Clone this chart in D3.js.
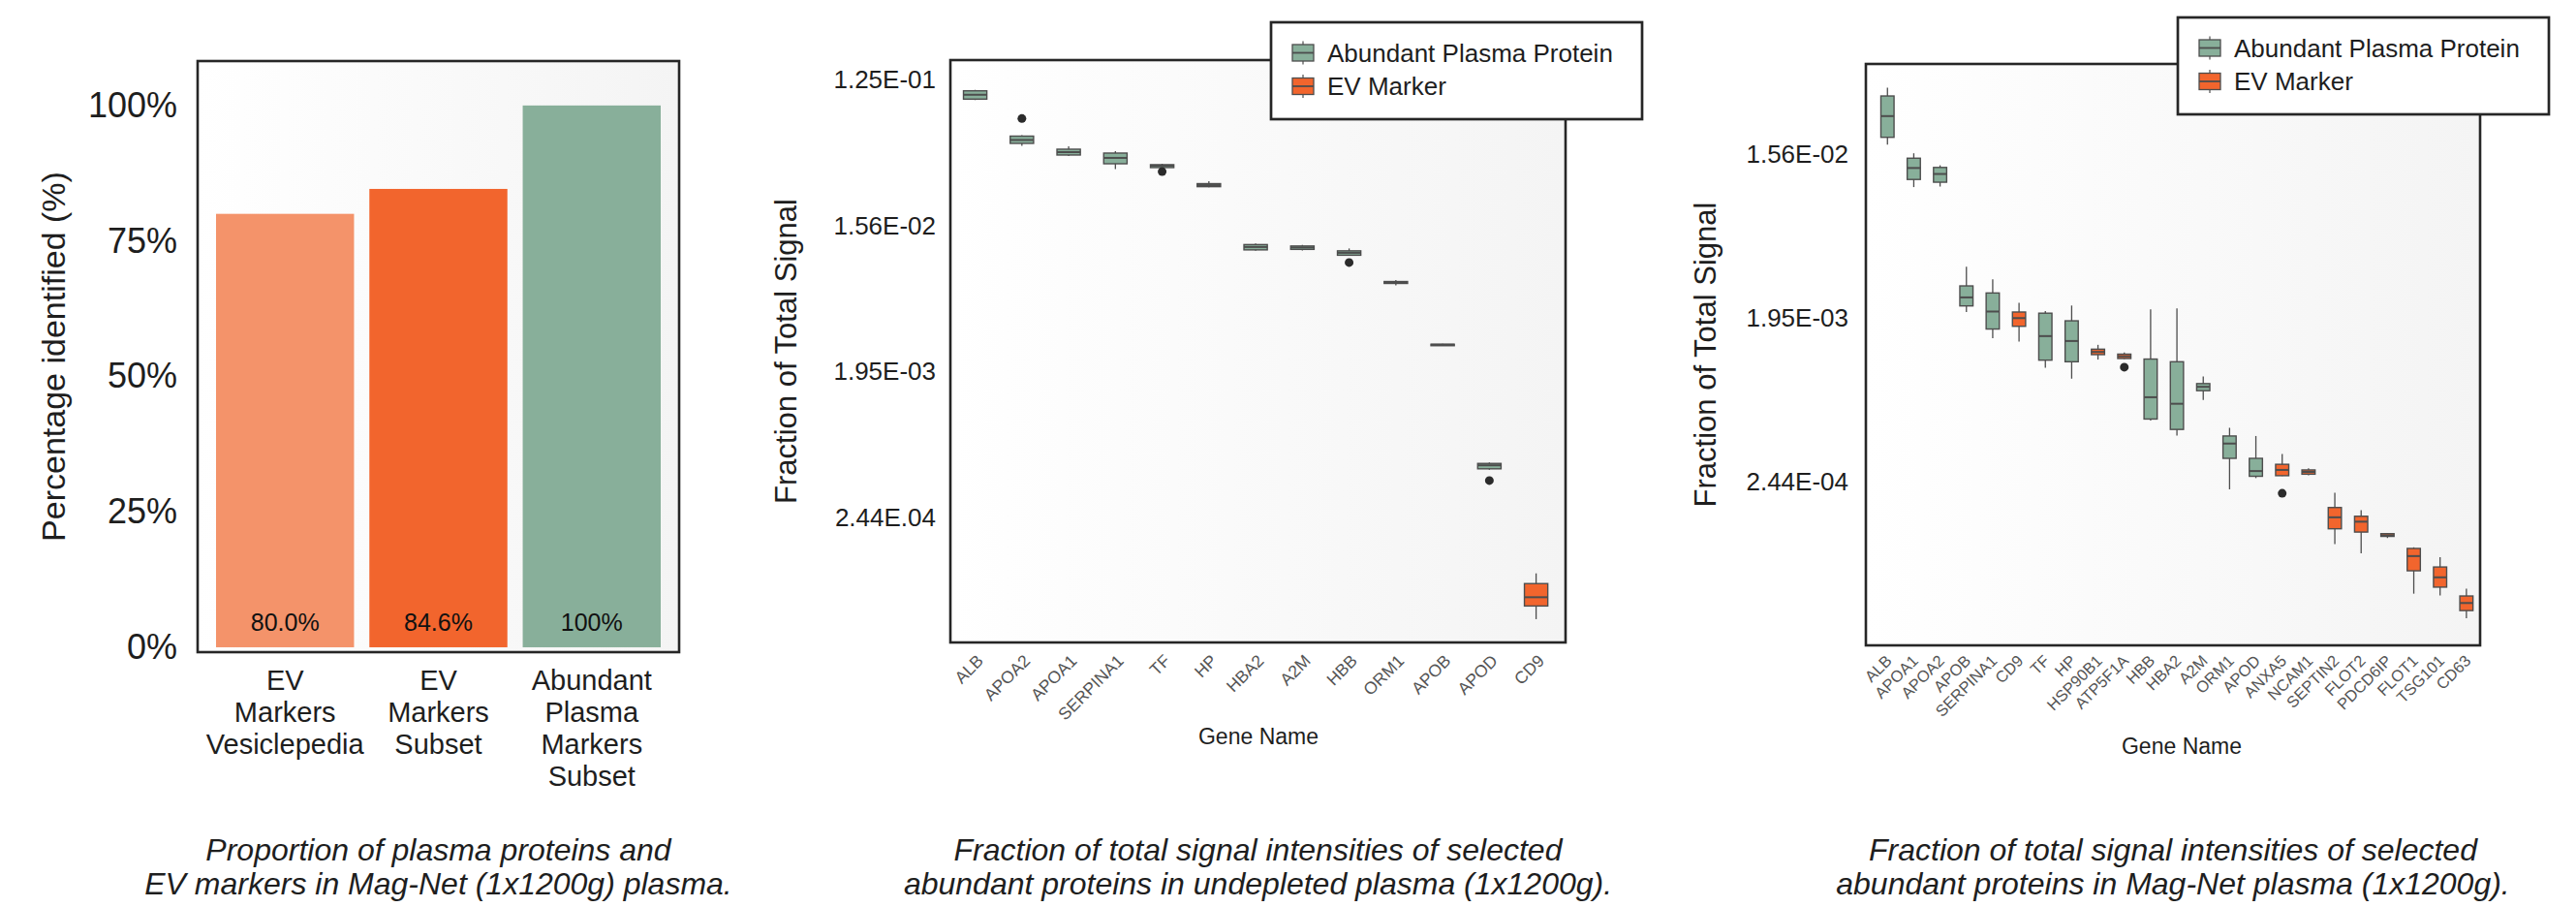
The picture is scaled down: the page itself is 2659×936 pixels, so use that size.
<!DOCTYPE html>
<html>
<head>
<meta charset="utf-8">
<script src="https://cdn.jsdelivr.net/npm/d3@7"></script>
<style>
  html, body { margin: 0; padding: 0; background: #fff; }
  svg { display: block; font-family: "Liberation Sans", Arial, Helvetica, sans-serif; }
</style>
</head>
<body>
<svg id="chart" width="2659" height="936"></svg>
<script>
// ---- data ----
const barCategories = [
  ['EV', 'Markers', 'Vesiclepedia'],
  ['EV', 'Markers', 'Subset'],
  ['Abundant', 'Plasma', 'Markers', 'Subset'],
];
const barValues = [0.800, 0.846, 1.0];
const barLabels = ['80.0%', '84.6%', '100%'];
const barTicks = [0, 0.25, 0.5, 0.75, 1];
const barTickLabels = ['0%', '25%', '50%', '75%', '100%'];

const legendNames = ['Abundant Plasma Protein', 'EV Marker'];

// undepleted plasma: [whisker low, q1, median, q3, whisker high]
const undepletedGenes = ['ALB', 'APOA2', 'APOA1', 'SERPINA1', 'TF', 'HP', 'HBA2', 'A2M', 'HBB', 'ORM1', 'APOB', 'APOD', 'CD9'];
const undepletedGroups = [0, 0, 0, 0, 0, 0, 0, 0, 0, 0, 0, 0, 1];
const undepletedStats = [
  [0.0934, 0.0947, 0.1008, 0.1066, 0.1081],
  [0.0487, 0.0504, 0.0529, 0.0559, 0.0567],
  [0.0421, 0.0427, 0.0445, 0.0464, 0.0484],
  [0.0349, 0.0377, 0.0410, 0.0439, 0.0451],
  [0.0354, 0.0357, 0.0367, 0.0372, 0.0377],
  [0.0270, 0.0272, 0.0278, 0.0284, 0.0294],
  [0.01090, 0.01105, 0.01152, 0.01192, 0.01209],
  [0.01097, 0.01113, 0.01144, 0.01168, 0.01184],
  [0.01017, 0.01024, 0.01060, 0.01090, 0.01128],
  [0.00666, 0.00685, 0.00694, 0.00704, 0.00719],
  [0.00282, 0.00284, 0.00286, 0.00288, 0.00290],
  [0.000482, 0.000488, 0.000513, 0.000527, 0.000534],
  [0.0000573, 0.0000691, 0.0000783, 0.0000951, 0.000110],
];
const undepletedOutliers = [[], [0.0718], [], [], [0.0337], [], [], [], [0.00923], [], [], [0.000413], []];
const undepletedTicks = [0.125, 0.015625, 0.001953125, 0.000244140625];
const undepletedTickLabels = ['1.25E-01', '1.56E-02', '1.95E-03', '2.44E.04'];

// Mag-Net plasma
const magnetGenes = ['ALB', 'APOA1', 'APOA2', 'APOB', 'SERPINA1', 'CD9', 'TF', 'HP', 'HSP90B1', 'ATP5F1A', 'HBB', 'HBA2',
  'A2M', 'ORM1', 'APOD', 'ANXA5', 'NCAM1', 'SEPTIN2', 'FLOT2', 'PDCD6IP', 'FLOT1', 'TSG101', 'CD63'];
const magnetGroups = [0, 0, 0, 0, 0, 1, 0, 0, 1, 1, 0, 0, 0, 0, 0, 1, 1, 1, 1, 1, 1, 1, 1];
const magnetStats = [
  [0.0177, 0.0194, 0.0254, 0.0328, 0.0364],
  [0.01031, 0.01136, 0.01314, 0.01488, 0.01584],
  [0.01038, 0.01097, 0.01218, 0.01323, 0.01360],
  [0.00211, 0.00228, 0.00254, 0.00294, 0.00375],
  [0.001511, 0.001700, 0.002123, 0.002687, 0.003194],
  [0.001450, 0.001760, 0.001953, 0.00211, 0.002372],
  [0.001039, 0.001145, 0.001554, 0.002079, 0.002137],
  [0.000905, 0.001122, 0.001460, 0.001887, 0.002291],
  [0.001153, 0.001228, 0.001271, 0.001316, 0.001391],
  [0.001161, 0.001169, 0.001202, 0.001236, 0.001262],
  [0.000531, 0.000542, 0.000715, 0.001161, 0.002182],
  [0.000440, 0.000475, 0.000658, 0.001122, 0.002212],
  [0.000691, 0.000777, 0.000816, 0.000850, 0.000930],
  [0.000222, 0.000329, 0.000397, 0.000437, 0.000485],
  [0.000256, 0.000262, 0.000280, 0.000329, 0.000437],
  [0.000263, 0.000264, 0.000284, 0.000305, 0.000348],
  [0.000265, 0.000269, 0.000277, 0.000284, 0.000290],
  [0.0001108, 0.0001345, 0.0001556, 0.0001762, 0.0002125],
  [0.0000985, 0.0001290, 0.0001472, 0.0001577, 0.0001702],
  [0.0001196, 0.0001221, 0.0001238, 0.0001264, 0.0001272],
  [0.0000590, 0.0000789, 0.0000951, 0.0001048, 0.0001063],
  [0.0000577, 0.0000641, 0.0000726, 0.0000828, 0.0000938],
  [0.0000432, 0.0000476, 0.0000524, 0.0000573, 0.0000628],
];
const magnetOutliers = [[], [], [], [], [], [], [], [], [], [0.001047], [], [], [], [], [], [0.000211], [], [], [], [], [], [], []];
const magnetTicks = [0.015625, 0.001953125, 0.000244140625];
const magnetTickLabels = ['1.56E-02', '1.95E-03', '2.44E-04'];

// ---- styles ----
const groupColors = ['#88af9a', '#f2652d'];
const barColors = ['#f4936a', '#f2652d', '#88af9a'];
const edgeColor = '#4d4d4d';
const textColor = '#1e1e1e';

const svg = d3.select('#chart');
svg.append('rect').attr('width', 2659).attr('height', 936).attr('fill', '#fff');

const defs = svg.append('defs');
const bgGrad = defs.append('linearGradient')
  .attr('id', 'panelBg')
  .attr('x1', '0%').attr('y1', '0%')
  .attr('x2', '100%').attr('y2', '0%');
bgGrad.append('stop').attr('offset', '0%').attr('stop-color', '#ffffff');
bgGrad.append('stop').attr('offset', '100%').attr('stop-color', '#f4f4f4');

function drawFrame(g, box) {
  g.append('rect')
    .attr('x', box.left).attr('y', box.top)
    .attr('width', box.right - box.left).attr('height', box.bottom - box.top)
    .attr('fill', 'none')
    .attr('stroke', '#262626')
    .attr('stroke-width', 2.6);
}

function drawBackground(g, box) {
  g.append('rect')
    .attr('x', box.left).attr('y', box.top)
    .attr('width', box.right - box.left).attr('height', box.bottom - box.top)
    .attr('fill', 'url(#panelBg)');
}

function drawCaption(g, lines, cx, y0) {
  g.append('text')
    .attr('text-anchor', 'middle')
    .attr('font-style', 'italic')
    .attr('font-size', 32)
    .attr('fill', textColor)
    .selectAll('tspan')
    .data(lines)
    .join('tspan')
    .attr('x', cx)
    .attr('y', (d, i) => y0 + i * 35)
    .attr('dy', '0.35em')
    .text((d) => d);
}

// ---- panel 1: bar chart ----
const p1 = { left: 204, right: 701, top: 63, bottom: 673 };
const g1 = svg.append('g');
const x1 = d3.scaleLinear().domain([-0.57, 2.57]).range([p1.left, p1.right]);
const y1 = d3.scaleLinear().domain([-0.009, 1.082]).range([p1.bottom, p1.top]);

drawBackground(g1, p1);

g1.selectAll('.bar')
  .data(barValues)
  .join('rect')
  .attr('class', 'bar')
  .attr('x', (d, i) => x1(i - 0.45))
  .attr('width', (d, i) => x1(i + 0.45) - x1(i - 0.45))
  .attr('y', (d) => y1(d))
  .attr('height', (d) => y1(0) - y1(d))
  .attr('fill', (d, i) => barColors[i]);

g1.selectAll('.bar-label')
  .data(barLabels)
  .join('text')
  .attr('class', 'bar-label')
  .attr('x', (d, i) => x1(i))
  .attr('y', 642)
  .attr('dy', '0.35em')
  .attr('text-anchor', 'middle')
  .attr('font-size', 25)
  .attr('fill', '#111')
  .text((d) => d);

drawFrame(g1, p1);

const yAxis1 = g1.append('g')
  .attr('transform', `translate(${p1.left},0)`)
  .call(d3.axisLeft(y1).tickValues(barTicks).tickFormat((d, i) => barTickLabels[i]).tickSize(0).tickPadding(21));
yAxis1.select('.domain').remove();
yAxis1.selectAll('text')
  .attr('font-size', 36)
  .attr('font-family', null)
  .attr('fill', textColor);

const catLabels = g1.selectAll('.cat-label')
  .data(barCategories)
  .join('text')
  .attr('class', 'cat-label')
  .attr('text-anchor', 'middle')
  .attr('font-size', 29)
  .attr('fill', textColor);
catLabels.each(function eachCat(lines, i) {
  d3.select(this).selectAll('tspan')
    .data(lines)
    .join('tspan')
    .attr('x', x1(i))
    .attr('y', (d, k) => 702 + k * 33)
    .attr('dy', '0.35em')
    .text((d) => d);
});

g1.append('text')
  .attr('transform', `translate(55,${(p1.top + p1.bottom) / 2}) rotate(-90)`)
  .attr('text-anchor', 'middle')
  .attr('dy', '0.35em')
  .attr('font-size', 34)
  .attr('fill', textColor)
  .text('Percentage identified (%)');

drawCaption(g1, ['Proportion of plasma proteins and', 'EV markers in Mag-Net (1x1200g) plasma.'], (p1.left + p1.right) / 2, 877);

// ---- panels 2 and 3: box plots ----
function drawBoxPanel(cfg) {
  const { box } = cfg;
  const g = svg.append('g');
  const x = d3.scaleLinear().domain(cfg.xDomain).range([box.left, box.right]);
  const y = d3.scaleLog().base(2).domain(cfg.yDomain).range([box.bottom, box.top]);
  const half = (x(0.25) - x(0));

  drawBackground(g, box);

  const boxes = g.selectAll('.gene')
    .data(cfg.stats)
    .join('g')
    .attr('class', 'gene');

  boxes.append('line')
    .attr('x1', (d, i) => x(i)).attr('x2', (d, i) => x(i))
    .attr('y1', (d) => y(d[4])).attr('y2', (d) => y(d[0]))
    .attr('stroke', edgeColor)
    .attr('stroke-width', 1.3);

  boxes.append('rect')
    .attr('x', (d, i) => x(i) - half)
    .attr('width', half * 2)
    .attr('y', (d) => y(d[3]))
    .attr('height', (d) => Math.max(1.5, y(d[1]) - y(d[3])))
    .attr('fill', (d, i) => groupColors[cfg.groups[i]])
    .attr('stroke', edgeColor)
    .attr('stroke-width', 1.4);

  boxes.append('line')
    .attr('x1', (d, i) => x(i) - half).attr('x2', (d, i) => x(i) + half)
    .attr('y1', (d) => y(d[2])).attr('y2', (d) => y(d[2]))
    .attr('stroke', edgeColor)
    .attr('stroke-width', 2);

  boxes.each(function eachOutlier(d, i) {
    d3.select(this).selectAll('circle')
      .data(cfg.outliers[i])
      .join('circle')
      .attr('cx', x(i))
      .attr('cy', (v) => y(v))
      .attr('r', 4.5)
      .attr('fill', '#2b2b2b');
  });

  drawFrame(g, box);

  const yAxis = g.append('g')
    .attr('transform', `translate(${box.left},0)`)
    .call(d3.axisLeft(y).tickValues(cfg.ticks).tickFormat((d, i) => cfg.tickLabels[i]).tickSize(0).tickPadding(cfg.tickPad));
  yAxis.select('.domain').remove();
  yAxis.selectAll('text')
    .attr('font-size', 26)
    .attr('font-family', null)
    .attr('fill', textColor);

  const xAxis = g.append('g')
    .attr('transform', `translate(0,${box.bottom})`)
    .call(d3.axisBottom(x).tickValues(d3.range(cfg.genes.length)).tickFormat((i) => cfg.genes[i]).tickSize(0));
  xAxis.select('.domain').remove();
  xAxis.selectAll('text')
    .attr('font-size', cfg.geneFont)
    .attr('font-family', null)
    .attr('fill', '#555')
    .attr('text-anchor', 'end')
    .attr('dy', null)
    .attr('y', null)
    .attr('transform', `translate(${cfg.geneDx},${cfg.geneDy}) rotate(-45)`);

  g.append('text')
    .attr('transform', `translate(${cfg.yLabelX},${(box.top + box.bottom) / 2}) rotate(-90)`)
    .attr('text-anchor', 'middle')
    .attr('dy', '0.35em')
    .attr('font-size', 31)
    .attr('fill', textColor)
    .text('Fraction of Total Signal');

  g.append('text')
    .attr('x', cfg.xLabelX)
    .attr('y', cfg.xLabelY)
    .attr('dy', '0.35em')
    .attr('text-anchor', 'middle')
    .attr('font-size', 23)
    .attr('fill', textColor)
    .text('Gene Name');

  // legend
  const lg = g.append('g').attr('transform', `translate(${cfg.legend.x},${cfg.legend.y})`);
  lg.append('rect')
    .attr('width', cfg.legend.w)
    .attr('height', cfg.legend.h)
    .attr('fill', '#fff')
    .attr('stroke', '#262626')
    .attr('stroke-width', 2.7);
  const entries = lg.selectAll('.entry')
    .data(legendNames)
    .join('g')
    .attr('class', 'entry')
    .attr('transform', (d, i) => `translate(22,${31.5 + i * 34.5})`);
  entries.append('line')
    .attr('x1', 11).attr('x2', 11).attr('y1', -12).attr('y2', 12)
    .attr('stroke', edgeColor).attr('stroke-width', 1.2);
  entries.append('rect')
    .attr('x', 0).attr('y', -8.5).attr('width', 22).attr('height', 17)
    .attr('fill', (d, i) => groupColors[i])
    .attr('stroke', edgeColor).attr('stroke-width', 1.3);
  entries.append('line')
    .attr('x1', 0).attr('x2', 22).attr('y1', 0).attr('y2', 0)
    .attr('stroke', edgeColor).attr('stroke-width', 1.8);
  entries.append('text')
    .attr('x', 36)
    .attr('dy', '0.35em')
    .attr('font-size', 26)
    .attr('fill', textColor)
    .text((d) => d);

  drawCaption(g, cfg.caption, (box.left + box.right) / 2, 877);
}

drawBoxPanel({
  box: { left: 981, right: 1616, top: 62, bottom: 663 },
  xDomain: [-0.53, 12.63],
  yDomain: [0.0000411, 0.1652],
  genes: undepletedGenes,
  groups: undepletedGroups,
  stats: undepletedStats,
  outliers: undepletedOutliers,
  ticks: undepletedTicks,
  tickLabels: undepletedTickLabels,
  tickPad: 15,
  geneFont: 17.5,
  geneDx: 9,
  geneDy: 20,
  yLabelX: 811,
  xLabelX: 1299,
  xLabelY: 760,
  legend: { x: 1312, y: 23, w: 383, h: 100 },
  caption: ['Fraction of total signal intensities of selected', 'abundant proteins in undepleted plasma (1x1200g).'],
});

drawBoxPanel({
  box: { left: 1926, right: 2560, top: 66, bottom: 666 },
  xDomain: [-0.82, 22.52],
  yDomain: [0.0000306, 0.04925],
  genes: magnetGenes,
  groups: magnetGroups,
  stats: magnetStats,
  outliers: magnetOutliers,
  ticks: magnetTicks,
  tickLabels: magnetTickLabels,
  tickPad: 18,
  geneFont: 16.5,
  geneDx: 5,
  geneDy: 17,
  yLabelX: 1760,
  xLabelX: 2252,
  xLabelY: 770,
  legend: { x: 2248, y: 18, w: 383, h: 100 },
  caption: ['Fraction of total signal intensities of selected', 'abundant proteins in Mag-Net plasma (1x1200g).'],
});
</script>
</body>
</html>
